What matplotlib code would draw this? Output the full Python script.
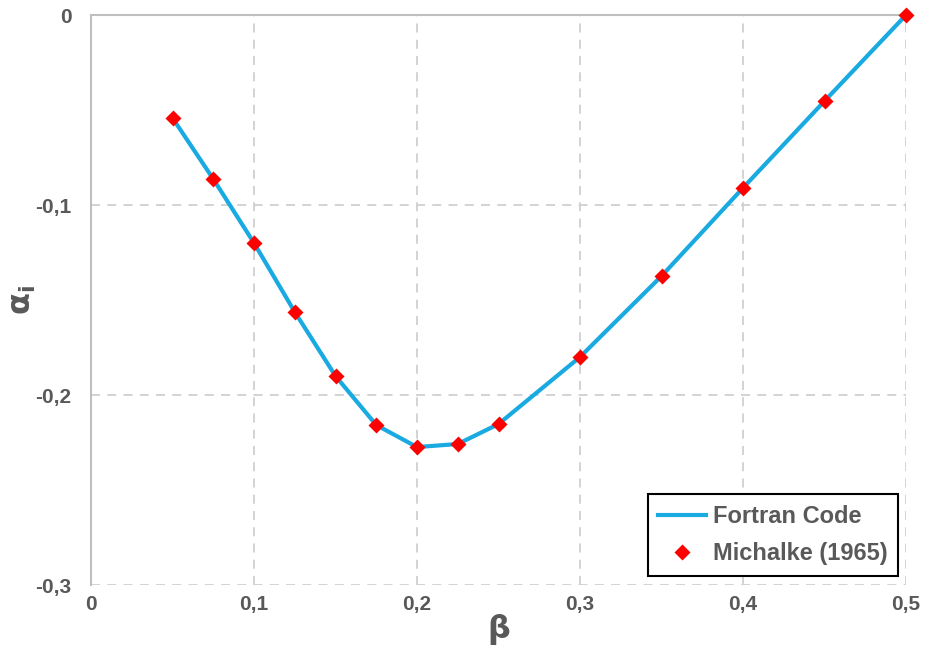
import numpy as np
import matplotlib.pyplot as plt
from matplotlib.ticker import FuncFormatter

# Spatial growth rate vs. frequency for the hyperbolic-tangent mixing layer
beta = [0.05, 0.075, 0.1, 0.125, 0.15, 0.175, 0.2, 0.225, 0.25, 0.3, 0.35, 0.4, 0.45, 0.5]
alpha_fortran = [-0.0542, -0.0863, -0.1200, -0.1563, -0.1900, -0.2158, -0.2274,
                 -0.2258, -0.2153, -0.1800, -0.1374, -0.0910, -0.0453, 0.0]
alpha_michalke = [-0.0542, -0.0863, -0.1200, -0.1563, -0.1900, -0.2158, -0.2274,
                  -0.2258, -0.2153, -0.1800, -0.1374, -0.0910, -0.0453, 0.0]

grey = '#595959'
plt.rcParams['font.family'] = ['Liberation Sans', 'DejaVu Sans']
plt.rcParams['font.weight'] = 'bold'

fig = plt.figure(figsize=(9.26, 6.52), dpi=100)
ax = fig.add_axes([91/926, 1 - 585/652, (906 - 91)/926, (585 - 15)/652])

ax.plot(beta, alpha_fortran, color='#1AAAE2', lw=3, label='Fortran Code', zorder=3)
ax.plot(beta, alpha_michalke, 'D', color='#FF0000', ms=8, mec='none',
        label='Michalke (1965)', zorder=4, clip_on=False)

ax.set_xlim(0, 0.5)
ax.set_ylim(-0.3, 0)
ax.set_xticks(np.arange(0, 0.51, 0.1))
ax.set_yticks(np.arange(-0.3, 0.01, 0.1))

comma = FuncFormatter(lambda v, p: ('%g' % round(v, 3)).replace('.', ','))
ax.xaxis.set_major_formatter(comma)
ax.yaxis.set_major_formatter(comma)

ax.grid(True, color='#D0D0D0', ls=(0, (5, 4)), lw=1.3)
for s in ['bottom', 'right']:
    ax.spines[s].set_visible(False)
for s in ['left', 'top']:
    ax.spines[s].set_color('#BFBFBF')
    ax.spines[s].set_linewidth(1.5)

ax.tick_params(length=0, labelsize=15, labelcolor=grey)
ax.tick_params(axis='x', pad=7)
ax.tick_params(axis='y', pad=14)

ax.set_xlabel('β', fontsize=23, color=grey, family='DejaVu Sans',
              fontweight='bold', labelpad=0)
ax.set_ylabel(r'$\mathbf{\alpha_i}$', fontsize=23, color=grey, labelpad=-2)

leg = ax.legend(loc='lower right', bbox_to_anchor=(0.99, 0.016), frameon=True,
                fancybox=False, edgecolor='black', framealpha=1,
                prop={'family': 'Liberation Sans', 'weight': 'bold', 'size': 17},
                handlelength=2.0, handletextpad=0.3, borderpad=0.45,
                labelspacing=0.6, borderaxespad=0)
leg.get_frame().set_linewidth(1.5)
for t in leg.get_texts():
    t.set_color(grey)

fig.savefig('out.png', dpi=100)
